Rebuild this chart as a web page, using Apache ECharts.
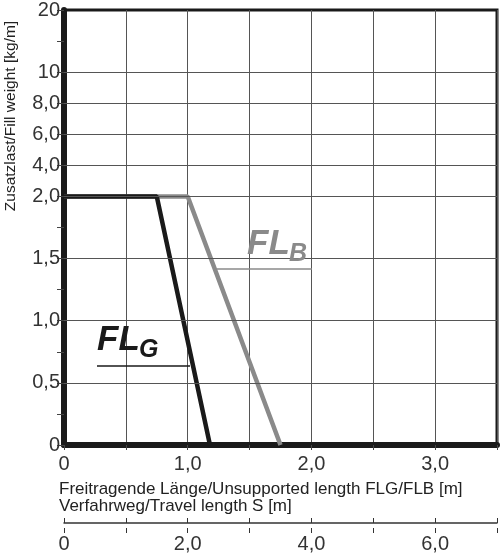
<!DOCTYPE html>
<html>
<head>
<meta charset="utf-8">
<script src="https://cdn.jsdelivr.net/npm/echarts@6/dist/echarts.min.js"></script>
<style>
  html, body { margin: 0; padding: 0; background: #fff; }
  #chart { width: 500px; height: 555px; }
</style>
</head>
<body>
<div id="chart"></div>
<script>
// Gewichtsachse: Wert [kg/m] und Position auf der (gestauchten) Skala
var weightTicks = [0, 0.5, 1.0, 1.5, 2.0, 4.0, 6.0, 8.0, 10, 20]
var weightPos = [0, 0.5, 1.0, 1.5, 2.0, 2.25, 2.5, 2.75, 3.0, 3.5]
var weightLabels = ['0', '0,5', '1,0', '1,5', '2,0', '4,0', '6,0', '8,0', '10', '20']
var gridWeights = [0.5, 1.0, 1.5, 2.0, 4.0, 6.0, 8.0, 10]

// Kurven FLG / FLB: Länge [m] und Zusatzlast [kg/m]
var flgLength = [0, 0.75, 1.18]
var flgWeight = [2.0, 2.0, 0]
var flbLength = [0, 1.0, 1.75]
var flbWeight = [2.0, 2.0, 0]

// Verfahrweg S [m]
var travelMax = 7

var font = 'Liberation Sans'
var black = '#1a1a1a'
var gray = '#8a8a8a'

// Gewicht -> Skalenposition (stückweise linear zwischen den Stützstellen)
function toPos(w) {
  for (var i = 1; i < weightTicks.length; i++) {
    if (w <= weightTicks[i]) {
      var a = weightTicks[i - 1]
      var b = weightTicks[i]
      return weightPos[i - 1] + (w - a) / (b - a) * (weightPos[i] - weightPos[i - 1])
    }
  }
  return weightPos[weightPos.length - 1]
}

function pairs(xs, ys) {
  return xs.map(function (x, i) { return [x, toPos(ys[i])] })
}

function decimal(v) {
  return v === 0 ? '0' : v.toFixed(1).replace('.', ',')
}

// Kurvenbeschriftung FL + Index, mit Unterstrich
function curveLabel(x, y, sub, color, lineFrom, lineTo, lineY) {
  var big = { fontFamily: font, fontSize: 35, fontWeight: 'bold', fontStyle: 'italic', fill: color, verticalAlign: 'bottom' }
  var small = { fontFamily: font, fontSize: 25, fontWeight: 'bold', fontStyle: 'italic', fill: color, verticalAlign: 'bottom' }
  return [
    { type: 'text', x: x, y: y, z: 10, style: Object.assign({ text: 'FL' }, big) },
    { type: 'text', x: x + 42, y: y + 5, z: 10, style: Object.assign({ text: sub }, small) },
    { type: 'line', z: 10, shape: { x1: lineFrom, y1: lineY, x2: lineTo, y2: lineY }, style: { stroke: color, lineWidth: 1.5 } }
  ]
}

var chart = echarts.init(document.getElementById('chart'))
chart.setOption({
  animation: false,
  grid: [
    { left: 64, right: 3, top: 9, height: 436, show: true, borderColor: black, borderWidth: 3 },
    { left: 64, right: 3, top: 518, height: 5 },
    { left: 64, right: 3, top: 523, height: 5 }
  ],
  xAxis: [
    {
      gridIndex: 0,
      type: 'value',
      min: 0,
      max: 3.5,
      interval: 0.5,
      axisLine: { lineStyle: { color: black, width: 6 } },
      axisTick: { length: 5, lineStyle: { color: '#444', width: 1 } },
      axisLabel: {
        margin: 9,
        fontFamily: font,
        fontSize: 20,
        color: '#333',
        formatter: function (v) { return v % 1 === 0 ? decimal(v) : '' }
      },
      splitLine: { lineStyle: { color: '#555', width: 1 } }
    },
    {
      gridIndex: 1,
      type: 'value',
      min: 0,
      max: travelMax,
      interval: 1,
      position: 'bottom',
      axisLine: { lineStyle: { color: '#333', width: 1.5 } },
      axisTick: { inside: true, length: 5, lineStyle: { color: '#333', width: 1 } },
      axisLabel: {
        margin: 11,
        fontFamily: font,
        fontSize: 20,
        color: '#333',
        formatter: function (v) { return v % 2 === 0 ? decimal(v) : '' }
      },
      splitLine: { show: false }
    },
    {
      gridIndex: 2,
      type: 'value',
      min: 0,
      max: travelMax,
      interval: 1,
      position: 'top',
      axisLine: { show: false },
      axisTick: { inside: true, length: 5, lineStyle: { color: '#333', width: 1 } },
      axisLabel: { show: false },
      splitLine: { show: false }
    }
  ],
  yAxis: [
    {
      gridIndex: 0,
      type: 'value',
      min: 0,
      max: 3.5,
      interval: 0.25,
      axisLine: { lineStyle: { color: black, width: 6 } },
      axisTick: { length: 7, lineStyle: { color: '#444', width: 1 } },
      axisLabel: {
        margin: 4,
        fontFamily: font,
        fontSize: 20,
        color: '#333',
        formatter: function (v) {
          for (var i = 0; i < weightPos.length; i++) {
            if (Math.abs(weightPos[i] - v) < 1e-6) return weightLabels[i]
          }
          return ''
        }
      },
      splitLine: { show: false }
    },
    { gridIndex: 1, type: 'value', show: false },
    { gridIndex: 2, type: 'value', show: false }
  ],
  graphic: [
    {
      type: 'text',
      x: 3,
      y: 116,
      rotation: Math.PI / 2,
      style: {
        text: 'Zusatzlast/Fill weight [kg/m]',
        fontFamily: font,
        fontSize: 15.5,
        fill: '#222',
        align: 'center',
        verticalAlign: 'top'
      }
    },
    {
      type: 'text',
      x: 59,
      y: 489,
      style: {
        text: 'Freitragende Länge/Unsupported length FLG/FLB [m]',
        fontFamily: font,
        fontSize: 17,
        fill: '#222',
        verticalAlign: 'middle'
      }
    },
    {
      type: 'text',
      x: 59,
      y: 506,
      style: {
        text: 'Verfahrweg/Travel length S [m]',
        fontFamily: font,
        fontSize: 17,
        fill: '#222',
        verticalAlign: 'middle'
      }
    }
  ].concat(
    curveLabel(97, 358, 'G', black, 97, 190, 366),
    curveLabel(247, 262, 'B', gray, 217, 312, 269)
  ),
  series: [
    {
      // horizontale Gitterlinien an den Gewichtsstufen
      type: 'line',
      data: [],
      z: 1,
      markLine: {
        silent: true,
        symbol: ['none', 'none'],
        label: { show: false },
        lineStyle: { color: '#555', width: 1, type: 'solid' },
        data: gridWeights.map(function (w) { return { yAxis: toPos(w) } })
      }
    },
    {
      name: 'FLB',
      type: 'line',
      data: pairs(flbLength, flbWeight),
      showSymbol: false,
      z: 3,
      lineStyle: { color: gray, width: 4.5 }
    },
    {
      name: 'FLG',
      type: 'line',
      data: pairs(flgLength, flgWeight),
      showSymbol: false,
      z: 4,
      lineStyle: { color: black, width: 4.5 }
    }
  ]
})
</script>
</body>
</html>
